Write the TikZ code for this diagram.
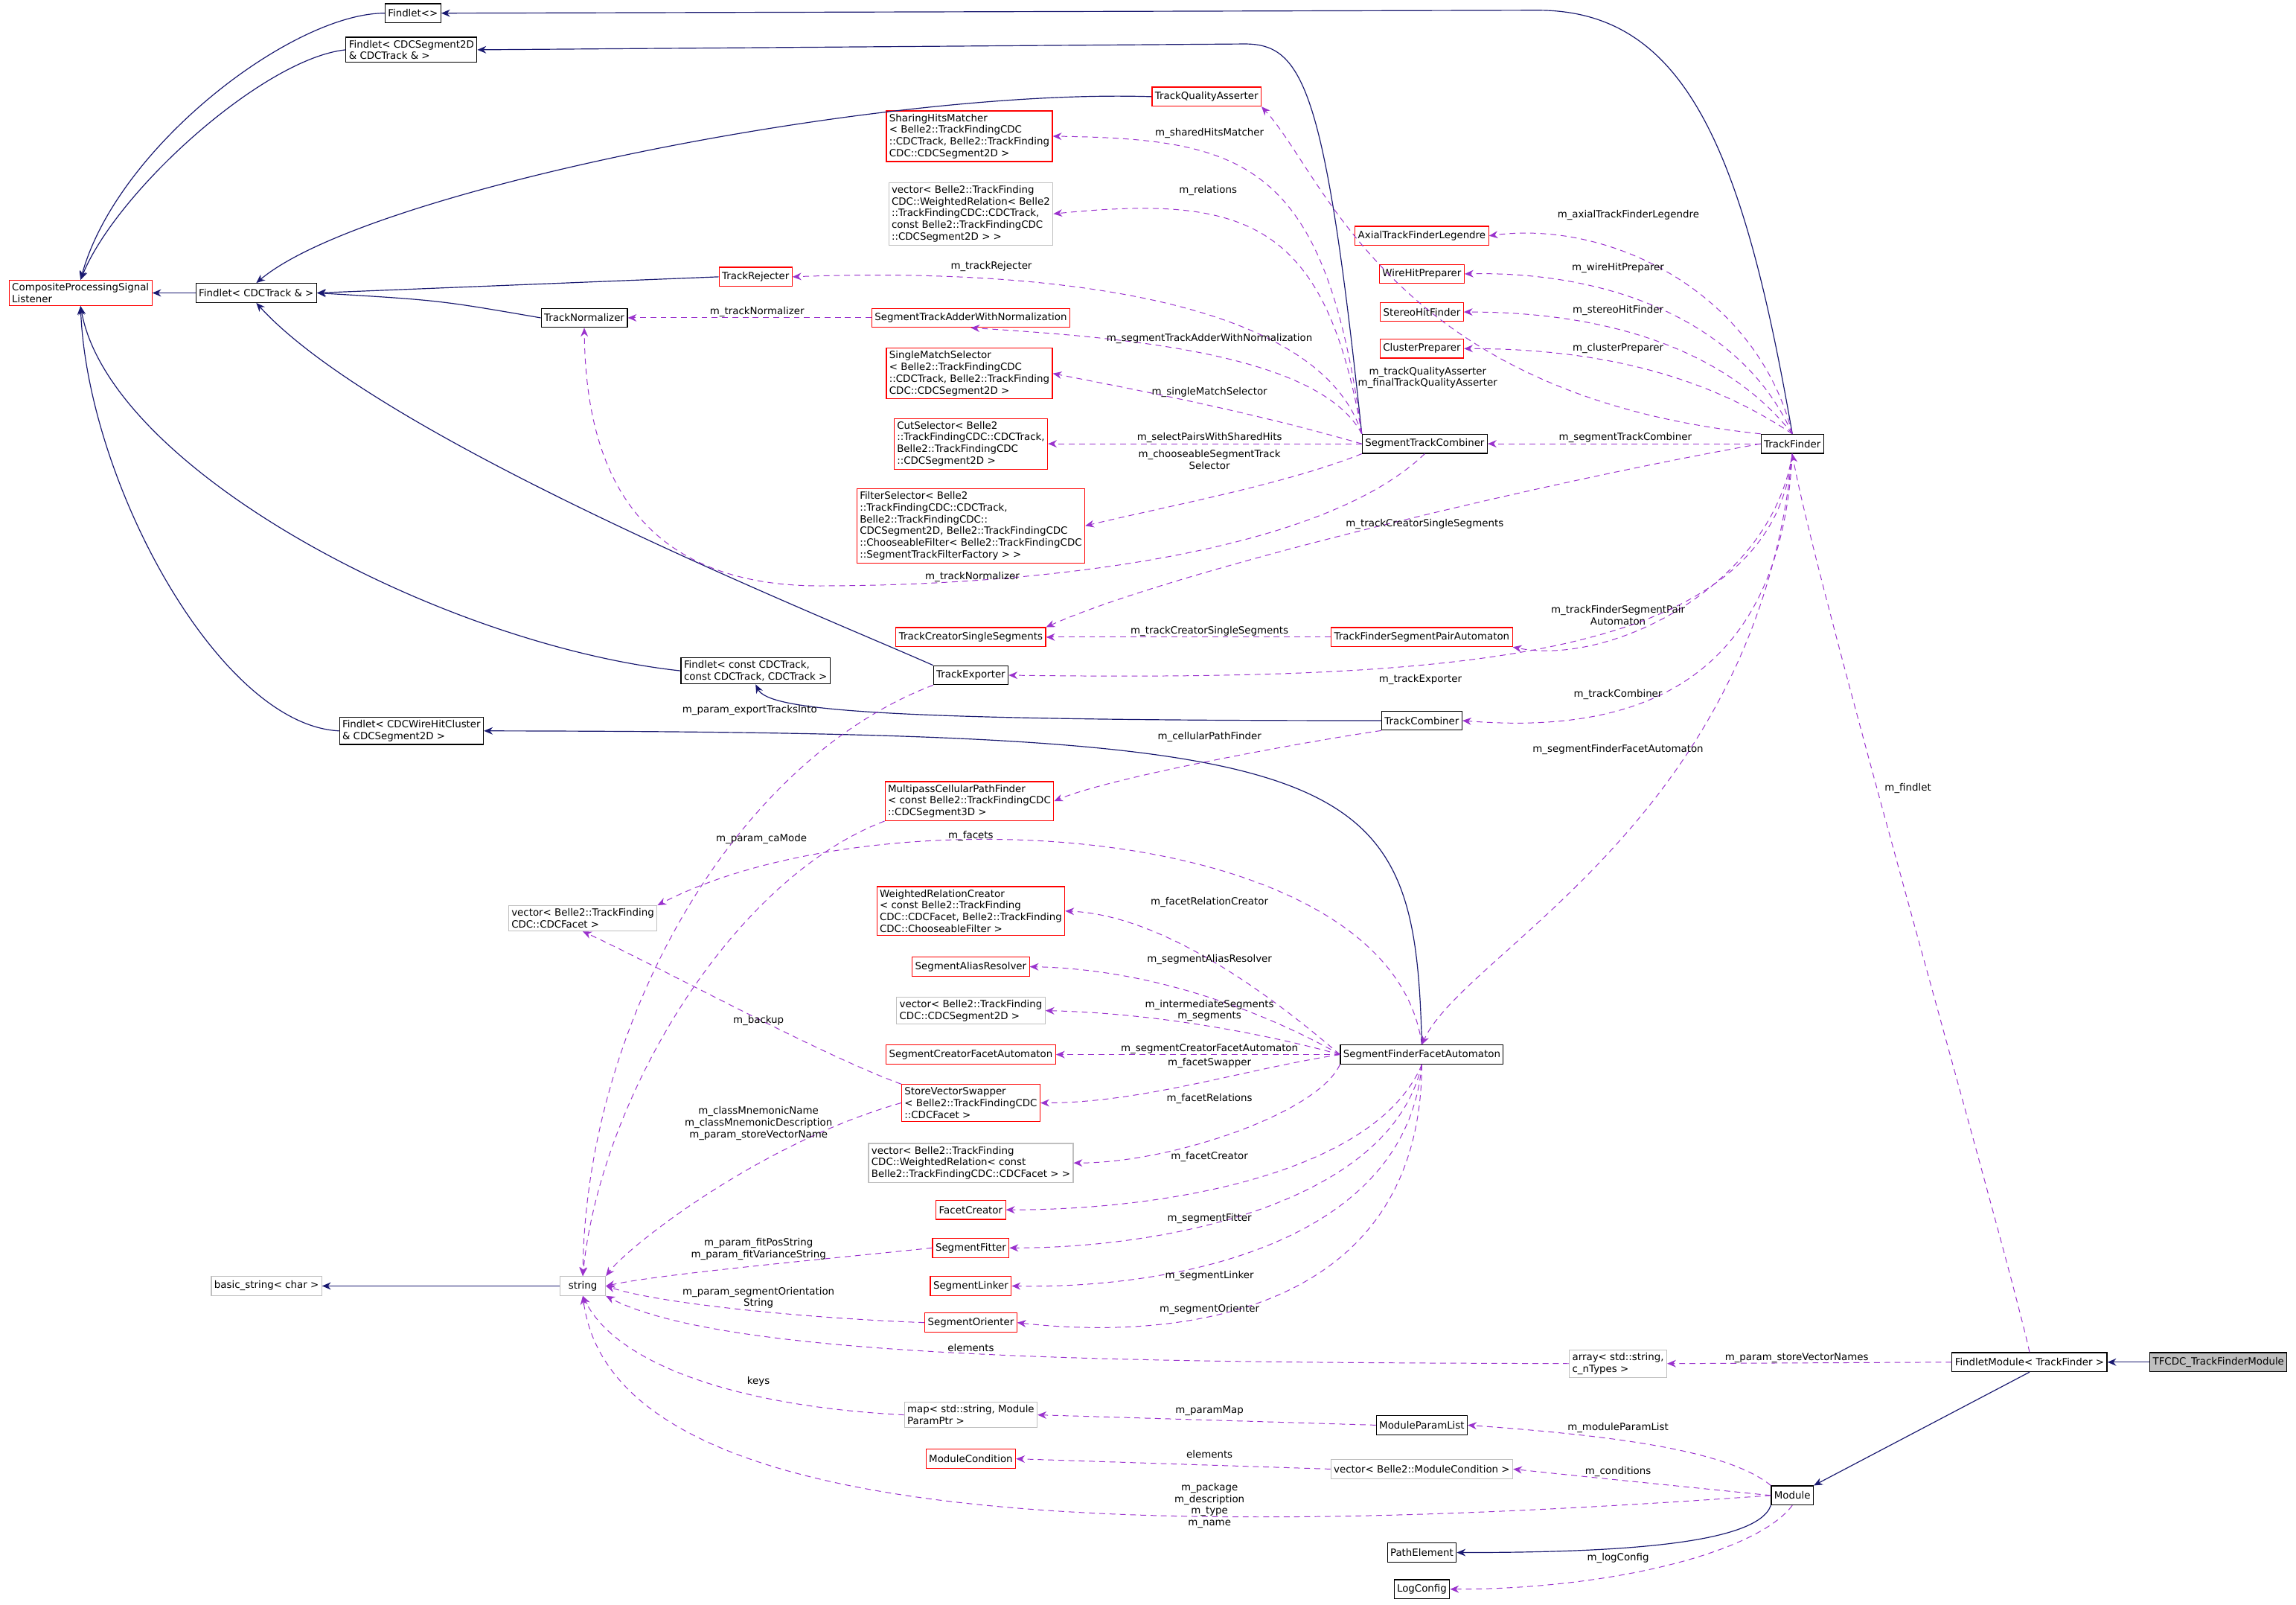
\documentclass[tikz,border=0pt]{standalone}
\usepackage{fontspec}
\setmainfont{DejaVu Sans}
\usetikzlibrary{arrows.meta}
\definecolor{inhc}{HTML}{191970}
\definecolor{usec}{HTML}{9A32CD}
\definecolor{grayb}{HTML}{BFBFBF}
\begin{document}
\begin{tikzpicture}[x=1pt,y=-1pt,
  every node/.style={font=\fontsize{6.8}{8}\selectfont},
  box/.style={draw=black,line width=0.6pt,inner sep=2pt,minimum height=13,align=left,fill=white},
  rbox/.style={box,draw=red},
  gbox/.style={box,draw=grayb},
  inh/.style={draw=inhc,line width=0.6pt,-{Stealth[length=6,width=5]}},
  use/.style={draw=usec,line width=0.5pt,dash pattern=on 4pt off 3pt,-{Stealth[length=6,width=5]}},
  lbl/.style={inner sep=0pt,align=center}]
\useasboundingbox (0,0) rectangle (1568,1095.8);
\fill[white] (0,0) rectangle (1568,1095.8);
% nodes
\node[box] (findA) at (282,9) {Findlet<>};
\node[box] (findB) at (281,34) {Findlet< CDCSegment2D\\\& CDCTrack \& >};
\node[rbox] (cpsl) at (55,200) {CompositeProcessingSignal\\Listener};
\node[box] (findC) at (175,200) {Findlet< CDCTrack \& >};
\node[rbox] (tqa) at (824,66) {TrackQualityAsserter};
\node[rbox] (shm) at (662,93) {SharingHitsMatcher\\< Belle2::TrackFindingCDC\\::CDCTrack, Belle2::TrackFinding\\CDC::CDCSegment2D >};
\node[gbox] (vrel) at (663,146) {vector< Belle2::TrackFinding\\CDC::WeightedRelation< Belle2\\::TrackFindingCDC::CDCTrack,\\ const Belle2::TrackFindingCDC\\::CDCSegment2D > >};
\node[rbox] (axl) at (971,161) {AxialTrackFinderLegendre};
\node[rbox] (trj) at (516,189) {TrackRejecter};
\node[rbox] (whp) at (971,187) {WireHitPreparer};
\node[rbox] (shf) at (971,213) {StereoHitFinder};
\node[box] (tn) at (399,217) {TrackNormalizer};
\node[rbox] (stawn) at (663,217) {SegmentTrackAdderWithNormalization};
\node[rbox] (cp) at (971,238) {ClusterPreparer};
\node[rbox] (sms) at (662,255) {SingleMatchSelector\\< Belle2::TrackFindingCDC\\::CDCTrack, Belle2::TrackFinding\\CDC::CDCSegment2D >};
\node[box] (stc) at (973,303) {SegmentTrackCombiner};
\node[box] (tf) at (1224,303) {TrackFinder};
\node[rbox] (cut) at (663,303) {CutSelector< Belle2\\::TrackFindingCDC::CDCTrack,\\ Belle2::TrackFindingCDC\\::CDCSegment2D >};
\node[rbox] (fs) at (663,359) {FilterSelector< Belle2\\::TrackFindingCDC::CDCTrack,\\ Belle2::TrackFindingCDC::\\CDCSegment2D, Belle2::TrackFindingCDC\\::ChooseableFilter< Belle2::TrackFindingCDC\\::SegmentTrackFilterFactory > >};
\node[rbox] (tcss) at (663,435) {TrackCreatorSingleSegments};
\node[rbox] (tfspa) at (971,435) {TrackFinderSegmentPairAutomaton};
\node[box] (findConst) at (516,458) {Findlet< const CDCTrack,\\ const CDCTrack, CDCTrack >};
\node[box] (te) at (663,461) {TrackExporter};
\node[box] (tc) at (971,492) {TrackCombiner};
\node[box] (findW) at (281,499) {Findlet< CDCWireHitCluster\\\& CDCSegment2D >};
\node[rbox] (mcpf) at (662,547) {MultipassCellularPathFinder\\< const Belle2::TrackFindingCDC\\::CDCSegment3D >};
\node[gbox] (vfacet) at (398,627) {vector< Belle2::TrackFinding\\CDC::CDCFacet >};
\node[rbox] (wrc) at (663,622) {WeightedRelationCreator\\< const Belle2::TrackFinding\\CDC::CDCFacet, Belle2::TrackFinding\\CDC::ChooseableFilter >};
\node[rbox] (sar) at (663,660) {SegmentAliasResolver};
\node[gbox] (vseg) at (663,690) {vector< Belle2::TrackFinding\\CDC::CDCSegment2D >};
\node[rbox] (scfa) at (663,720) {SegmentCreatorFacetAutomaton};
\node[box] (sffa) at (971,720) {SegmentFinderFacetAutomaton};
\node[rbox] (svs) at (663,753) {StoreVectorSwapper\\< Belle2::TrackFindingCDC\\::CDCFacet >};
\node[gbox] (vfr) at (663,794) {vector< Belle2::TrackFinding\\CDC::WeightedRelation< const\\ Belle2::TrackFindingCDC::CDCFacet > >};
\node[rbox] (fc) at (663,826) {FacetCreator};
\node[rbox] (sf) at (663,852) {SegmentFitter};
\node[rbox] (sl) at (663,878) {SegmentLinker};
\node[rbox] (so) at (663,903) {SegmentOrienter};
\node[gbox] (bstr) at (182,878) {basic\_string< char >};
\node[gbox,minimum width=31,align=center] (str) at (398,878) {string};
\node[gbox] (arr) at (1105,931) {array< std::string,\\ c\_nTypes >};
\node[box] (fm) at (1386,930) {FindletModule< TrackFinder >};
\node[box,fill=grayb] (tfcdc) at (1515,930) {TFCDC\_TrackFinderModule};
\node[gbox] (map) at (663,966) {map< std::string, Module\\ParamPtr >};
\node[box] (mpl) at (971,973) {ModuleParamList};
\node[rbox] (mc) at (663,996) {ModuleCondition};
\node[gbox] (vmc) at (971,1003) {vector< Belle2::ModuleCondition >};
\node[box] (mod) at (1224,1021) {Module};
\node[box] (pe) at (971,1060) {PathElement};
\node[box] (lc) at (971,1085) {LogConfig};
% inheritance
\draw[inh] (findA.west) .. controls (200,9) and (80,100) .. (cpsl.north);
\draw[inh] (findB.west) .. controls (180,40) and (80,130) .. (cpsl.north);
\draw[inh] (findC.west) -- (cpsl.east);
\draw[inh] (findConst.west) .. controls (300,440) and (75,320) .. (cpsl.south);
\draw[inh] (findW.west) .. controls (150,495) and (60,330) .. (cpsl.south);
\draw[inh] (tqa.west) .. controls (600,60) and (250,130) .. (findC.north);
\draw[inh] (trj.west) -- (findC.east);
\draw[inh] (tn.west) .. controls (300,205) .. (findC.east);
\draw[inh] (te.north west) .. controls (560,420) and (260,300) .. (findC.south);
\draw[inh] (tc.west) .. controls (600,492) and (525,485) .. (findConst.south);
\draw[inh] (sffa.north) .. controls (966,520) and (930,500) .. (findW.east);
\draw[inh] (stc.north west) .. controls (905,60) and (890,30) .. (850,30) -- (findB.east);
\draw[inh] (tf.north) .. controls (1190,100) and (1150,7) .. (1050,7) -- (findA.east);
\draw[inh] (str.west) -- (bstr.east);
\draw[inh] (tfcdc.west) -- (fm.east);
\draw[inh] (fm.south) -- (mod.north east);
\draw[inh] (mod.south west) .. controls (1200,1055) and (1100,1060) .. (pe.east);
% usage
\draw[use] (tf.north west) .. controls (950,270) and (905,120) .. (tqa.south east);
\node[lbl] (l1) at (975,258) {m\_trackQualityAsserter\\m\_finalTrackQualityAsserter};
\draw[use] (stc.north west) .. controls (905,110) and (850,95) .. (shm.east);
\node[lbl] (l2) at (826,91) {m\_sharedHitsMatcher};
\draw[use] (stc.north west) .. controls (905,150) and (850,133) .. (vrel.east);
\node[lbl] (l3) at (825,130) {m\_relations};
\draw[use] (stc.north west) .. controls (900,200) and (700,183) .. (trj.east);
\node[lbl] (l4) at (677,182) {m\_trackRejecter};
\draw[use] (stc.north west) .. controls (900,240) and (760,230) .. (stawn.south);
\node[lbl] (l5) at (826,231) {m\_segmentTrackAdderWithNormalization};
\draw[use] (stc.west) .. controls (850,280) and (770,265) .. (sms.east);
\node[lbl] (l6) at (826,268) {m\_singleMatchSelector};
\draw[use] (stc.west) -- (cut.east);
\node[lbl] (l7) at (826,299) {m\_selectPairsWithSharedHits};
\draw[use] (stc.south west) .. controls (880,330) and (800,345) .. (fs.east);
\node[lbl] (l8) at (826,314) {m\_chooseableSegmentTrack\\Selector};
\draw[use] (stc.south) .. controls (900,380) and (700,400) .. (560,400) .. controls (420,400) and (400,300) .. (tn.south);
\node[lbl] (l9) at (664,394) {m\_trackNormalizer};
\draw[use] (stawn.west) -- (tn.east);
\node[lbl] (l10) at (517,213) {m\_trackNormalizer};
\draw[use] (tf.north) .. controls (1200,200) and (1100,150) .. (axl.east);
\node[lbl] (l11) at (1112,147) {m\_axialTrackFinderLegendre};
\draw[use] (tf.north) .. controls (1190,220) and (1100,185) .. (whp.east);
\node[lbl] (l12) at (1105,183) {m\_wireHitPreparer};
\draw[use] (tf.north) .. controls (1180,240) and (1100,213) .. (shf.east);
\node[lbl] (l13) at (1105,212) {m\_stereoHitFinder};
\draw[use] (tf.north) .. controls (1170,260) and (1100,238) .. (cp.east);
\node[lbl] (l14) at (1105,238) {m\_clusterPreparer};
\draw[use] (tf.west) -- (stc.east);
\node[lbl] (l15) at (1110,299) {m\_segmentTrackCombiner};
\draw[use] (tf.west) .. controls (1050,330) and (800,390) .. (tcss.north east);
\node[lbl] (l16) at (973,358) {m\_trackCreatorSingleSegments};
\draw[use] (tf.south) .. controls (1210,400) and (1100,455) .. (tfspa.south east);
\node[lbl] (l17) at (1105,420) {m\_trackFinderSegmentPair\\Automaton};
\draw[use] (tf.south) .. controls (1210,450) and (1000,465) .. (te.east);
\node[lbl] (l18) at (970,464) {m\_trackExporter};
\draw[use] (tf.south) .. controls (1215,480) and (1100,500) .. (tc.east);
\node[lbl] (l19) at (1105,474) {m\_trackCombiner};
\draw[use] (tf.south) .. controls (1200,560) and (1000,650) .. (sffa.north);
\node[lbl] (l20) at (1105,512) {m\_segmentFinderFacetAutomaton};
\draw[use] (tfspa.west) -- (tcss.east);
\node[lbl] (l21) at (826,431) {m\_trackCreatorSingleSegments};
\draw[use] (fm.north) .. controls (1370,850) and (1240,400) .. (tf.south);
\node[lbl] (l22) at (1303,538) {m\_findlet};
\draw[use] (tc.south west) .. controls (900,505) and (760,530) .. (mcpf.east);
\node[lbl] (l23) at (826,503) {m\_cellularPathFinder};
\draw[use] (te.south west) .. controls (500,520) and (400,700) .. (str.north);
\node[lbl] (l24) at (512,485) {m\_param\_exportTracksInto};
\draw[use] (mcpf.south west) .. controls (500,600) and (410,750) .. (str.north);
\node[lbl] (l25) at (520,573) {m\_param\_caMode};
\draw[use] (sffa.north) .. controls (950,560) and (600,540) .. (vfacet.north east);
\node[lbl] (l26) at (663,571) {m\_facets};
\draw[use] (sffa.west) .. controls (880,690) and (800,625) .. (wrc.east);
\node[lbl] (l27) at (826,616) {m\_facetRelationCreator};
\draw[use] (sffa.west) .. controls (880,700) and (800,662) .. (sar.east);
\node[lbl] (l28) at (826,655) {m\_segmentAliasResolver};
\draw[use] (sffa.west) .. controls (880,710) and (800,692) .. (vseg.east);
\node[lbl] (l29) at (826,690) {m\_intermediateSegments\\m\_segments};
\draw[use] (sffa.west) -- (scfa.east);
\node[lbl] (l30) at (826,716) {m\_segmentCreatorFacetAutomaton};
\draw[use] (sffa.west) .. controls (850,730) and (780,753) .. (svs.east);
\node[lbl] (l31) at (826,726) {m\_facetSwapper};
\draw[use] (sffa.south west) .. controls (900,760) and (800,794) .. (vfr.east);
\node[lbl] (l32) at (826,750) {m\_facetRelations};
\draw[use] (sffa.south) .. controls (940,800) and (800,826) .. (fc.east);
\node[lbl] (l33) at (826,790) {m\_facetCreator};
\draw[use] (sffa.south) .. controls (950,820) and (800,852) .. (sf.east);
\node[lbl] (l34) at (826,832) {m\_segmentFitter};
\draw[use] (sffa.south) .. controls (960,850) and (800,880) .. (sl.east);
\node[lbl] (l35) at (826,871) {m\_segmentLinker};
\draw[use] (sffa.south) .. controls (970,900) and (800,915) .. (so.east);
\node[lbl] (l36) at (826,894) {m\_segmentOrienter};
\draw[use] (svs.north west) .. controls (560,720) and (450,660) .. (vfacet.south);
\node[lbl] (l37) at (518,697) {m\_backup};
\draw[use] (svs.west) .. controls (520,780) and (430,850) .. (str.north east);
\node[lbl] (l38) at (518,767) {m\_classMnemonicName\\m\_classMnemonicDescription\\m\_param\_storeVectorName};
\draw[use] (sf.west) .. controls (560,860) and (450,870) .. (str.east);
\node[lbl] (l39) at (518,853) {m\_param\_fitPosString\\m\_param\_fitVarianceString};
\draw[use] (so.west) .. controls (550,900) and (450,890) .. (str.east);
\node[lbl] (l40) at (518,886) {m\_param\_segmentOrientation\\String};
\draw[use] (arr.west) .. controls (800,930) and (500,930) .. (str.south east);
\node[lbl] (l41) at (663,920) {elements};
\draw[use] (fm.west) -- (arr.east);
\node[lbl] (l42) at (1227,927) {m\_param\_storeVectorNames};
\draw[use] (map.west) .. controls (500,960) and (420,930) .. (str.south);
\node[lbl] (l43) at (518,943) {keys};
\draw[use] (mpl.west) -- (map.east);
\node[lbl] (l44) at (826,963) {m\_paramMap};
\draw[use] (vmc.west) -- (mc.east);
\node[lbl] (l45) at (826,993) {elements};
\draw[use] (mod.north west) .. controls (1180,990) and (1100,980) .. (mpl.east);
\node[lbl] (l46) at (1105,975) {m\_moduleParamList};
\draw[use] (mod.west) .. controls (1150,1015) and (1080,1008) .. (vmc.east);
\node[lbl] (l47) at (1105,1005) {m\_conditions};
\draw[use] (mod.west) .. controls (800,1050) and (420,1050) .. (str.south);
\node[lbl] (l48) at (826,1028) {m\_package\\m\_description\\m\_type\\m\_name};
\draw[use] (mod.south) .. controls (1200,1060) and (1100,1085) .. (lc.east);
\node[lbl] (l49) at (1105,1064) {m\_logConfig};
\end{tikzpicture}
\end{document}
